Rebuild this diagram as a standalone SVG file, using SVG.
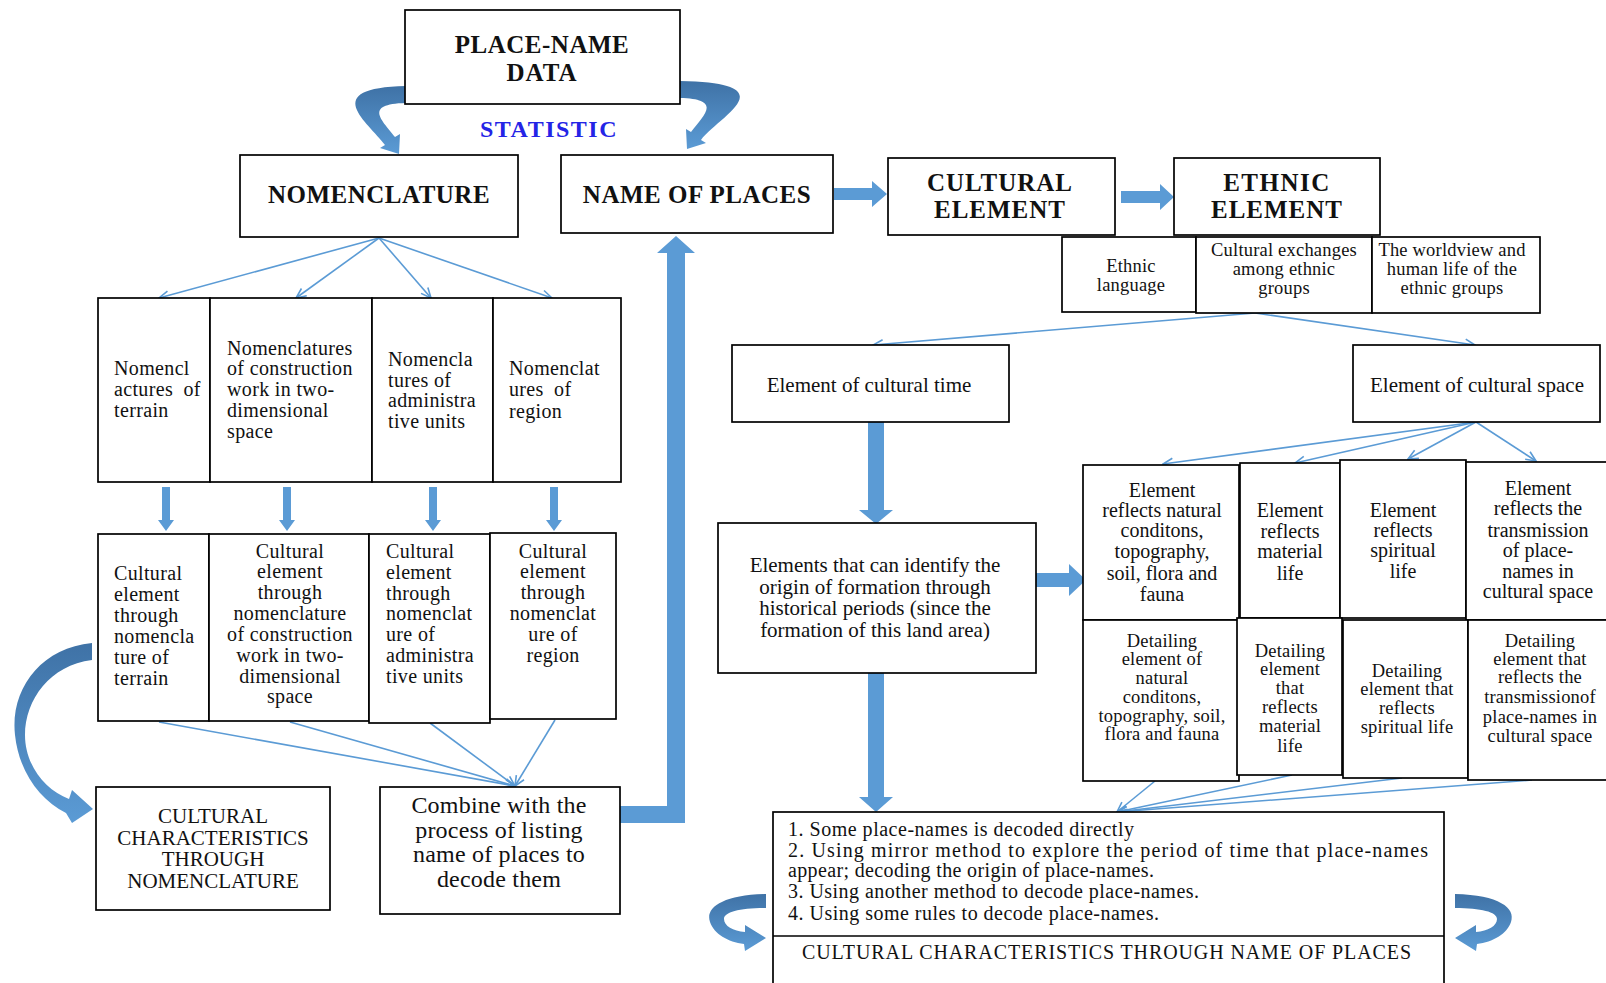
<svg xmlns="http://www.w3.org/2000/svg" width="1606" height="983" viewBox="0 0 1606 983">
<style>
.box{fill:#fff;stroke:#000;stroke-width:1.7}
text{font-family:"Liberation Serif","Times New Roman",serif;fill:#111}
.hb{font-weight:bold;font-size:25px;text-anchor:middle}
.m{text-anchor:middle}
.f21{font-size:20px;letter-spacing:0.35px}
.g21{font-size:21px}
.f20{font-size:20px}
.f19{font-size:18.5px;letter-spacing:0.2px}
.f25{font-size:24px;letter-spacing:0.2px}
.ln{stroke:#5b9bd5;stroke-width:1.6;fill:none;marker-end:url(#oa)}
.fat{fill:#5b9bd5}
</style>
<defs>
<marker id="oa" viewBox="0 0 12 12" refX="11" refY="6" markerWidth="12" markerHeight="12" markerUnits="userSpaceOnUse" orient="auto">
<path d="M1 1.5 L11 6 L1 10.5" fill="none" stroke="#5b9bd5" stroke-width="1.6"/>
</marker>
<linearGradient id="gv" x1="0" y1="0" x2="0" y2="1">
<stop offset="0" stop-color="#3f72a6"/>
<stop offset="1" stop-color="#5b9bd5"/>
</linearGradient>
</defs>
<rect width="1606" height="983" fill="#fff"/>

<g id="connectors">
<path fill="url(#gv)" d="M 406 86 C 318 88, 368 122, 385 145 L 380 148 L 399 154 L 400 134 L 395 137 C 383 121, 362 104, 406 103 Z"/>
<path fill="url(#gv)" d="M 680 81 C 790 83, 718 117, 701 140 L 706 143 L 687 149 L 686 129 L 691 132 C 703 116, 724 99, 680 98 Z"/>
<path fill="url(#gv)" d="M 92 643 C 40 648, 10 690, 15 735 C 19 772, 40 800, 66 813 L 72 823 L 93 809 L 72 790 L 69 799 C 45 790, 25 765, 25 735 C 25 700, 50 665, 92 660 Z"/>
<path fill="url(#gv)" d="M 766 894 C 722 895, 705 908, 710 922 C 714 934, 728 942, 744 944 L 745 951 L 766 938 L 745 925 L 745 932 C 733 931, 724 926, 724 919 C 724 912, 740 908, 766 908 Z"/>
<path fill="url(#gv)" transform="translate(2221,0) scale(-1,1)" d="M 766 894 C 722 895, 705 908, 710 922 C 714 934, 728 942, 744 944 L 745 951 L 766 938 L 745 925 L 745 932 C 733 931, 724 926, 724 919 C 724 912, 740 908, 766 908 Z"/>

<path class="fat" d="M 834 188 H 872 V 181 L 887 194 L 872 207 V 200 H 834 Z"/>
<path class="fat" d="M 1121 191 H 1160 V 184 L 1174 197 L 1160 210 V 203 H 1121 Z"/>
<path class="fat" d="M 620 806 H 667 V 253 H 657 L 676 236 L 695 253 H 685 V 823 H 620 Z"/>
<path class="fat" d="M 162 487 H 170 V 520 H 174 L 166 531 L 158 520 H 162 Z"/>
<path class="fat" d="M 283 487 H 291 V 520 H 295 L 287 531 L 279 520 H 283 Z"/>
<path class="fat" d="M 429 487 H 437 V 520 H 441 L 433 531 L 425 520 H 429 Z"/>
<path class="fat" d="M 550 487 H 558 V 520 H 562 L 554 531 L 546 520 H 550 Z"/>
<path class="fat" d="M 868 422 H 884 V 510 H 893 L 876 524 L 859 510 H 868 Z"/>
<path class="fat" d="M 1036 573 H 1069 V 564 L 1086 580 L 1069 596 V 587 H 1036 Z"/>
<path class="fat" d="M 868 673 H 884 V 797 H 893 L 876 812 L 859 797 H 868 Z"/>

<line class="ln" x1="379" y1="238" x2="159" y2="298"/>
<line class="ln" x1="379" y1="238" x2="296" y2="298"/>
<line class="ln" x1="379" y1="238" x2="431" y2="298"/>
<line class="ln" x1="379" y1="238" x2="552" y2="298"/>
<line class="ln" x1="159" y1="722" x2="515" y2="786"/>
<line class="ln" x1="290" y1="722" x2="515" y2="786"/>
<line class="ln" x1="430" y1="723" x2="515" y2="786"/>
<line class="ln" x1="555" y1="720" x2="515" y2="786"/>
<line class="ln" x1="1255" y1="313" x2="873" y2="345"/>
<line class="ln" x1="1255" y1="313" x2="1475" y2="345"/>
<line class="ln" x1="1476" y1="422" x2="1163" y2="464"/>
<line class="ln" x1="1476" y1="422" x2="1295" y2="463"/>
<line class="ln" x1="1476" y1="422" x2="1408" y2="459"/>
<line class="ln" x1="1476" y1="422" x2="1536" y2="461"/>
<line class="ln" x1="1155" y1="781" x2="1117" y2="812"/>
<line class="ln" x1="1292" y1="775" x2="1117" y2="812"/>
<line class="ln" x1="1402" y1="778" x2="1117" y2="812"/>
<line class="ln" x1="1532" y1="780" x2="1117" y2="812"/>
</g>

<g id="place-name-data">
<rect class="box" x="405" y="10" width="275" height="94"/>
<text class="hb" x="542" y="53" letter-spacing="0.5">PLACE-NAME</text>
<text class="hb" x="542" y="81" letter-spacing="1">DATA</text>
</g>
<g id="statistic">
<text x="549" y="137" font-size="24" font-weight="bold" text-anchor="middle" letter-spacing="1.5" style="fill:#2424e6">STATISTIC</text>
</g>
<g id="nomenclature">
<rect class="box" x="240" y="155" width="278" height="82"/>
<text class="hb" x="379" y="203" letter-spacing="0.5">NOMENCLATURE</text>
</g>
<g id="name-of-places">
<rect class="box" x="561" y="155" width="272" height="78"/>
<text class="hb" x="697" y="203" letter-spacing="0.5">NAME OF PLACES</text>
</g>
<g id="cultural-element">
<rect class="box" x="888" y="158" width="227" height="77"/>
<text class="hb" x="1000" y="191" font-size="24" letter-spacing="1">CULTURAL</text>
<text class="hb" x="1000" y="218" font-size="24" letter-spacing="1">ELEMENT</text>
</g>
<g id="ethnic-element">
<rect class="box" x="1174" y="158" width="206" height="77"/>
<text class="hb" x="1277" y="191" font-size="24" letter-spacing="1.5">ETHNIC</text>
<text class="hb" x="1277" y="218" font-size="24" letter-spacing="1">ELEMENT</text>
</g>
<g id="ethnic-language">
<rect class="box" x="1062" y="237" width="134" height="75"/>
<text class="m f19" x="1131" y="272">Ethnic</text>
<text class="m f19" x="1131" y="291">language</text>
</g>
<g id="cultural-exchanges">
<rect class="box" x="1196" y="237" width="176" height="76"/>
<text class="m f19" x="1284" y="256">Cultural exchanges</text>
<text class="m f19" x="1284" y="275">among ethnic</text>
<text class="m f19" x="1284" y="294">groups</text>
</g>
<g id="worldview">
<rect class="box" x="1372" y="237" width="168" height="76"/>
<text class="m f19" x="1452" y="256">The worldview and</text>
<text class="m f19" x="1452" y="275">human life of the</text>
<text class="m f19" x="1452" y="294">ethnic groups</text>
</g>

<g id="nom-terrain">
<rect class="box" x="98" y="298" width="112" height="184"/>
<text class="f21" x="114" y="375">Nomencl</text>
<text class="f21" x="114" y="396" word-spacing="5">actures of</text>
<text class="f21" x="114" y="417">terrain</text>
</g>
<g id="nom-construction">
<rect class="box" x="210" y="298" width="162" height="184"/>
<text class="f21" x="227" y="355">Nomenclatures</text>
<text class="f21" x="227" y="375">of construction</text>
<text class="f21" x="227" y="396">work in two-</text>
<text class="f21" x="227" y="417">dimensional</text>
<text class="f21" x="227" y="438">space</text>
</g>
<g id="nom-admin">
<rect class="box" x="372" y="298" width="121" height="184"/>
<text class="f21" x="388" y="366">Nomencla</text>
<text class="f21" x="388" y="387">tures of</text>
<text class="f21" x="388" y="407">administra</text>
<text class="f21" x="388" y="428">tive units</text>
</g>
<g id="nom-region">
<rect class="box" x="493" y="298" width="128" height="184"/>
<text class="f21" x="509" y="375">Nomenclat</text>
<text class="f21" x="509" y="396" word-spacing="5">ures of</text>
<text class="f21" x="509" y="418">region</text>
</g>

<g id="ce-terrain">
<rect class="box" x="98" y="534" width="111" height="187"/>
<text class="f21" x="114" y="580">Cultural</text>
<text class="f21" x="114" y="601">element</text>
<text class="f21" x="114" y="622">through</text>
<text class="f21" x="114" y="643">nomencla</text>
<text class="f21" x="114" y="664">ture of</text>
<text class="f21" x="114" y="685">terrain</text>
</g>
<g id="ce-construction">
<rect class="box" x="209" y="534" width="160" height="187"/>
<text class="m f21" x="290" y="558">Cultural</text>
<text class="m f21" x="290" y="578">element</text>
<text class="m f21" x="290" y="599">through</text>
<text class="m f21" x="290" y="620">nomenclature</text>
<text class="m f21" x="290" y="641">of construction</text>
<text class="m f21" x="290" y="662">work in two-</text>
<text class="m f21" x="290" y="683">dimensional</text>
<text class="m f21" x="290" y="703">space</text>
</g>
<g id="ce-admin">
<rect class="box" x="369" y="534" width="121" height="189"/>
<text class="f21" x="386" y="558">Cultural</text>
<text class="f21" x="386" y="579">element</text>
<text class="f21" x="386" y="600">through</text>
<text class="f21" x="386" y="620">nomenclat</text>
<text class="f21" x="386" y="641">ure of</text>
<text class="f21" x="386" y="662">administra</text>
<text class="f21" x="386" y="683">tive units</text>
</g>
<g id="ce-region">
<rect class="box" x="490" y="533" width="126" height="186"/>
<text class="m f21" x="553" y="558">Cultural</text>
<text class="m f21" x="553" y="578">element</text>
<text class="m f21" x="553" y="599">through</text>
<text class="m f21" x="553" y="620">nomenclat</text>
<text class="m f21" x="553" y="641">ure of</text>
<text class="m f21" x="553" y="662">region</text>
</g>

<g id="cultural-characteristics-nomenclature">
<rect class="box" x="96" y="787" width="234" height="123"/>
<text class="m g21" x="213" y="823">CULTURAL</text>
<text class="m g21" x="213" y="845">CHARACTERISTICS</text>
<text class="m g21" x="213" y="866">THROUGH</text>
<text class="m g21" x="213" y="888">NOMENCLATURE</text>
</g>
<g id="combine">
<rect class="box" x="380" y="787" width="240" height="127"/>
<text class="m f25" x="499" y="813">Combine with the</text>
<text class="m f25" x="499" y="838">process of listing</text>
<text class="m f25" x="499" y="862">name of places to</text>
<text class="m f25" x="499" y="887">decode them</text>
</g>

<g id="cultural-time">
<rect class="box" x="732" y="345" width="277" height="77"/>
<text class="m g21" x="869" y="392">Element of cultural time</text>
</g>
<g id="cultural-space">
<rect class="box" x="1353" y="345" width="247" height="77"/>
<text class="m g21" x="1477" y="392">Element of cultural space</text>
</g>
<g id="elements-origin">
<rect class="box" x="718" y="523" width="318" height="150"/>
<text class="m g21" x="875" y="572">Elements that can identify the</text>
<text class="m g21" x="875" y="594">origin of formation through</text>
<text class="m g21" x="875" y="615">historical periods (since the</text>
<text class="m g21" x="875" y="637">formation of this land area)</text>
</g>

<g id="el-natural">
<rect class="box" x="1083" y="465" width="156" height="155"/>
<text class="m f20" x="1162" y="497">Element</text>
<text class="m f20" x="1162" y="517">reflects natural</text>
<text class="m f20" x="1162" y="537">conditons,</text>
<text class="m f20" x="1162" y="558">topography,</text>
<text class="m f20" x="1162" y="580">soil, flora and</text>
<text class="m f20" x="1162" y="601">fauna</text>
</g>
<g id="el-material">
<rect class="box" x="1240" y="463" width="100" height="155"/>
<text class="m f20" x="1290" y="517">Element</text>
<text class="m f20" x="1290" y="538">reflects</text>
<text class="m f20" x="1290" y="558">material</text>
<text class="m f20" x="1290" y="580">life</text>
</g>
<g id="el-spiritual">
<rect class="box" x="1340" y="460" width="126" height="158"/>
<text class="m f20" x="1403" y="517">Element</text>
<text class="m f20" x="1403" y="537">reflects</text>
<text class="m f20" x="1403" y="557">spiritual</text>
<text class="m f20" x="1403" y="578">life</text>
</g>
<g id="el-transmission">
<rect class="box" x="1466" y="462" width="145" height="158"/>
<text class="m f20" x="1538" y="495">Element</text>
<text class="m f20" x="1538" y="515">reflects the</text>
<text class="m f20" x="1538" y="537">transmission</text>
<text class="m f20" x="1538" y="557">of place-</text>
<text class="m f20" x="1538" y="578">names in</text>
<text class="m f20" x="1538" y="598">cultural space</text>
</g>
<g id="det-natural">
<rect class="box" x="1083" y="620" width="156" height="161"/>
<text class="m f19" x="1162" y="647">Detailing</text>
<text class="m f19" x="1162" y="665">element of</text>
<text class="m f19" x="1162" y="684">natural</text>
<text class="m f19" x="1162" y="703">conditons,</text>
<text class="m f19" x="1162" y="722" letter-spacing="-0.4">topography, soil,</text>
<text class="m f19" x="1162" y="740" letter-spacing="-0.3">flora and fauna</text>
</g>
<g id="det-material">
<rect class="box" x="1237" y="618" width="105" height="157"/>
<text class="m f19" x="1290" y="657">Detailing</text>
<text class="m f19" x="1290" y="675">element</text>
<text class="m f19" x="1290" y="694">that</text>
<text class="m f19" x="1290" y="713">reflects</text>
<text class="m f19" x="1290" y="732">material</text>
<text class="m f19" x="1290" y="752">life</text>
</g>
<g id="det-spiritual">
<rect class="box" x="1343" y="620" width="125" height="158"/>
<text class="m f19" x="1407" y="677">Detailing</text>
<text class="m f19" x="1407" y="695" letter-spacing="-0.3">element that</text>
<text class="m f19" x="1407" y="714">reflects</text>
<text class="m f19" x="1407" y="733" letter-spacing="-0.3">spiritual life</text>
</g>
<g id="det-transmission">
<rect class="box" x="1468" y="620" width="143" height="160"/>
<text class="m f19" x="1540" y="647">Detailing</text>
<text class="m f19" x="1540" y="665" letter-spacing="-0.3">element that</text>
<text class="m f19" x="1540" y="683">reflects the</text>
<text class="m f19" x="1540" y="703" letter-spacing="-0.3">transmissionof</text>
<text class="m f19" x="1540" y="723" letter-spacing="-0.3">place-names in</text>
<text class="m f19" x="1540" y="742" letter-spacing="-0.3">cultural space</text>
</g>

<g id="decoding-methods">
<rect class="box" x="773" y="812" width="671" height="190"/>
<line x1="773" y1="936" x2="1444" y2="936" stroke="#000" stroke-width="1.7"/>
<text class="f20" x="788" y="836" textLength="346" lengthAdjust="spacing">1. Some place-names is decoded directly</text>
<text class="f20" x="788" y="857" textLength="640" lengthAdjust="spacing">2. Using mirror method to explore the period of time that place-names</text>
<text class="f20" x="788" y="877" textLength="366" lengthAdjust="spacing">appear; decoding the origin of place-names.</text>
<text class="f20" x="788" y="898" textLength="411" lengthAdjust="spacing">3. Using another method to decode place-names.</text>
<text class="f20" x="788" y="920" textLength="371" lengthAdjust="spacing">4. Using some rules to decode place-names.</text>
<text class="f20" x="802" y="959" textLength="609" lengthAdjust="spacing">CULTURAL CHARACTERISTICS THROUGH NAME OF PLACES</text>
</g>
</svg>
